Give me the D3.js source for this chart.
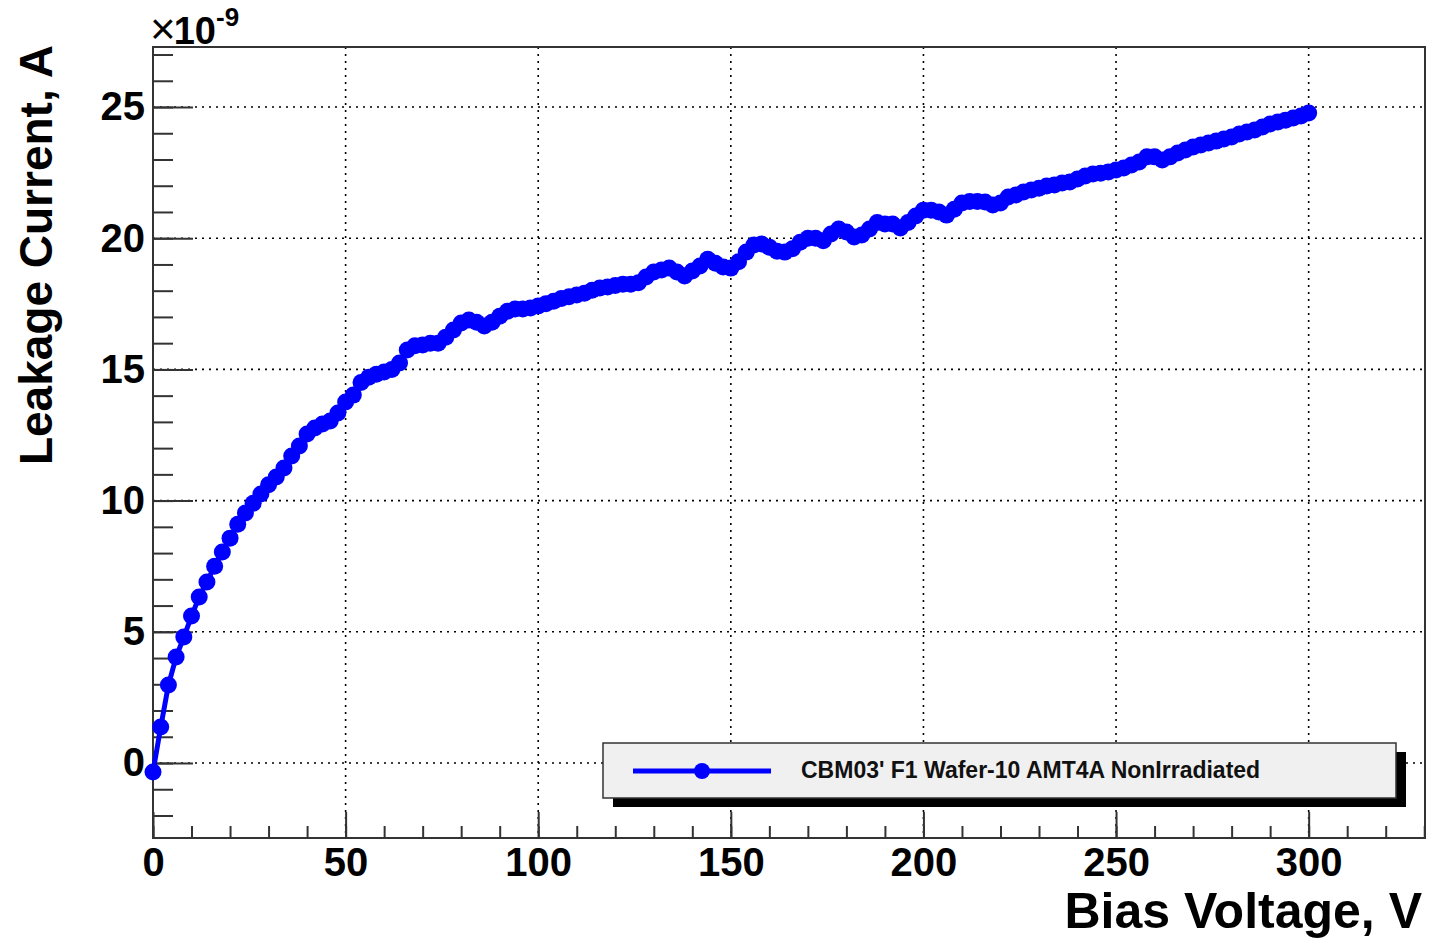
<!DOCTYPE html>
<meta charset="utf-8">
<style>
  body, html { margin:0; padding:0; background:#fff; }
  text { font-family: "Liberation Sans", Arial, Helvetica, sans-serif; font-weight: bold; }
</style>
<body>
<svg id="chart" width="1431" height="939"></svg>
<script src="https://d3js.org/d3.v7.min.js"></script>
<script>

// bias voltage (V), every 2 V
var voltage = d3.range(0, 301, 2);
// leakage current (x1e-9 A)
var current = [
  -0.34, 1.37, 2.97, 4.04, 4.80, 5.60, 6.33, 6.90, 7.50, 8.04,
  8.57, 9.10, 9.53, 9.90, 10.25, 10.60, 10.90, 11.24, 11.70, 12.08,
  12.54, 12.77, 12.92, 13.03, 13.34, 13.76, 14.02, 14.50, 14.70, 14.82,
  14.90, 15.00, 15.24, 15.74, 15.90, 15.93, 16.00, 16.00, 16.23, 16.50,
  16.77, 16.88, 16.80, 16.65, 16.80, 17.03, 17.22, 17.30, 17.30, 17.34,
  17.42, 17.50, 17.60, 17.70, 17.77, 17.84, 17.90, 18.02, 18.10, 18.14,
  18.20, 18.25, 18.25, 18.30, 18.52, 18.71, 18.79, 18.86, 18.71, 18.56,
  18.75, 18.94, 19.20, 19.05, 18.90, 18.86, 19.10, 19.47, 19.74, 19.78,
  19.66, 19.50, 19.47, 19.60, 19.85, 20.00, 20.00, 19.90, 20.16, 20.35,
  20.24, 20.05, 20.12, 20.35, 20.60, 20.54, 20.54, 20.39, 20.60, 20.85,
  21.07, 21.07, 21.00, 20.88, 21.10, 21.34, 21.40, 21.40, 21.38, 21.27,
  21.34, 21.57, 21.65, 21.76, 21.84, 21.90, 21.99, 22.03, 22.10, 22.14,
  22.26, 22.37, 22.45, 22.48, 22.52, 22.60, 22.68, 22.79, 22.90, 23.10,
  23.10, 22.98, 23.10, 23.25, 23.36, 23.48, 23.55, 23.63, 23.70, 23.78,
  23.86, 23.97, 24.05, 24.12, 24.24, 24.35, 24.43, 24.50, 24.58, 24.66,
  24.77
];

var xMajor = [0, 50, 100, 150, 200, 250, 300];
var xMinor = d3.range(0, 331, 10);
var yMajor = [0, 5, 10, 15, 20, 25];
var yMinor = d3.range(-2, 28, 1);

var legendLabel = "CBM03' F1 Wafer-10 AMT4A NonIrradiated";

var data = voltage.map(function(v, i) { return {v: v, c: current[i]}; });

var W = 1431, H = 939;
var margin = {left: 153, top: 47, right: W - 1425, bottom: H - 838};
var pw = W - margin.left - margin.right,
    ph = H - margin.top - margin.bottom;

var svg = d3.select("#chart");
svg.append("rect").attr("width", W).attr("height", H).attr("fill", "#fff");

var g = svg.append("g").attr("transform", "translate(" + margin.left + "," + margin.top + ")");

var x = d3.scaleLinear().domain([0, 330.2]).range([0, pw]);
var y = d3.scaleLinear().domain([-2.858, 27.287]).range([ph, 0]);

// dotted grid
g.selectAll(".gx").data(xMajor.filter(function(d) { return d > 0; }))
  .enter().append("line")
  .attr("x1", function(d) { return x(d); }).attr("x2", function(d) { return x(d); })
  .attr("y1", 0).attr("y2", ph)
  .attr("stroke", "#000").attr("stroke-width", 1.6).attr("stroke-dasharray", "2,5");
g.selectAll(".gy").data(yMajor)
  .enter().append("line")
  .attr("x1", 0).attr("x2", pw)
  .attr("y1", function(d) { return y(d); }).attr("y2", function(d) { return y(d); })
  .attr("stroke", "#000").attr("stroke-width", 1.6).attr("stroke-dasharray", "2,5");

// ticks (pointing into the frame)
function axisStyle(sel) {
  sel.select(".domain").remove();
  sel.selectAll(".tick line").attr("stroke", "#333").attr("stroke-width", 2);
  sel.selectAll("text").attr("fill", "#000").style("font-size", "40px")
    .style("font-family", "'Liberation Sans', Arial, sans-serif").style("font-weight", "bold");
}

g.append("g").attr("transform", "translate(0," + ph + ")")
  .call(d3.axisBottom(x).tickValues(xMinor).tickSize(-12).tickFormat(""))
  .call(axisStyle);
g.append("g").attr("transform", "translate(0," + ph + ")")
  .call(d3.axisBottom(x).tickValues(xMajor).tickSize(-26).tickPadding(10).tickFormat(d3.format("d")))
  .call(axisStyle);

g.append("g")
  .call(d3.axisLeft(y).tickValues(yMinor).tickSize(-20).tickFormat(""))
  .call(axisStyle);
g.append("g")
  .call(d3.axisLeft(y).tickValues(yMajor).tickSize(-40).tickPadding(8).tickFormat(d3.format("d")))
  .call(axisStyle);

// frame
g.append("rect").attr("width", pw).attr("height", ph)
  .attr("fill", "none").attr("stroke", "#333").attr("stroke-width", 2);

// curve
var line = d3.line().x(function(d) { return x(d.v); }).y(function(d) { return y(d.c); });
g.append("path").datum(data)
  .attr("d", line).attr("fill", "none").attr("stroke", "#0000ff").attr("stroke-width", 5);
g.selectAll(".pt").data(data).enter().append("circle")
  .attr("cx", function(d) { return x(d.v); })
  .attr("cy", function(d) { return y(d.c); })
  .attr("r", 8.5).attr("fill", "#0000ff");

// exponent
var ex = svg.append("text").attr("x", 150).attr("y", 44).style("font-size", "38px");
ex.append("tspan").style("font-weight", "normal").style("font-size", "44px").text("\u00d7");
ex.append("tspan").attr("dx", -2).text("10");
ex.append("tspan").attr("dy", -18).style("font-size", "26px").text("-9");

// axis titles
svg.append("text").attr("x", 1422).attr("y", 928).attr("text-anchor", "end")
  .style("font-size", "50px").text("Bias Voltage, V");
svg.append("text").attr("transform", "translate(52,45) rotate(-90)").attr("text-anchor", "end")
  .style("font-size", "46px").text("Leakage Current, A");

// legend
var lg = svg.append("g").attr("transform", "translate(603,743)");
lg.append("rect").attr("x", 10).attr("y", 9).attr("width", 793).attr("height", 55).attr("fill", "#000");
lg.append("rect").attr("width", 793).attr("height", 55).attr("fill", "#f0f0f0")
  .attr("stroke", "#333").attr("stroke-width", 1.5);
lg.append("line").attr("x1", 30).attr("x2", 168).attr("y1", 28).attr("y2", 28)
  .attr("stroke", "#0000ff").attr("stroke-width", 5);
lg.append("circle").attr("cx", 99).attr("cy", 28).attr("r", 8).attr("fill", "#0000ff");
lg.append("text").attr("x", 198).attr("y", 35).style("font-size", "23px").attr("fill", "#111").text(legendLabel);

</script>
</body>
